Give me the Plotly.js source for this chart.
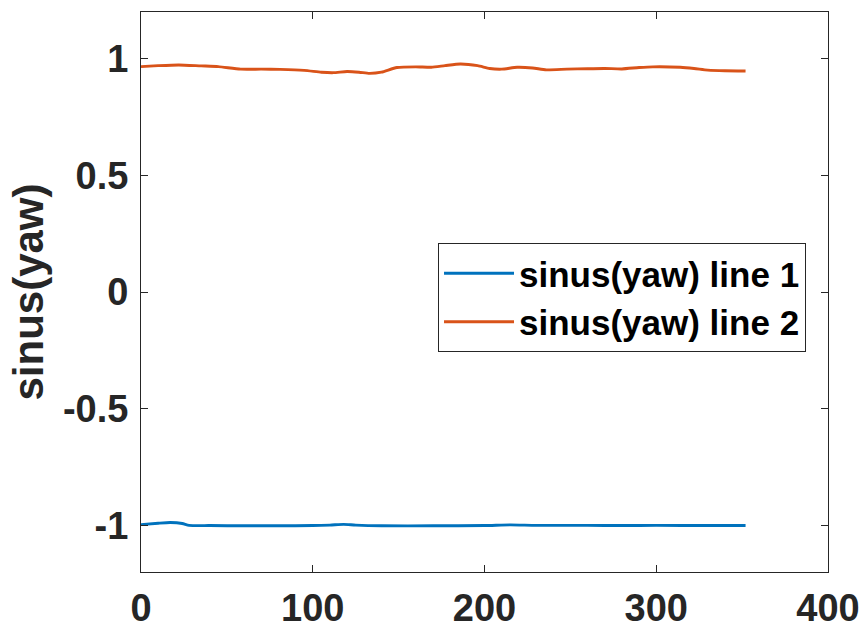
<!DOCTYPE html>
<html>
<head>
<meta charset="utf-8">
<script src="https://cdn.plot.ly/plotly-3.0.1.min.js"></script>
<style>html,body{margin:0;padding:0;background:#fff;}#chart{width:864px;height:632px;}</style>
</head>
<body>
<div id="chart"></div>
<script>
const tOrange = [0,10,22,35,45,58,70,81,95,105,112,120,127,133,140,149,160,169,177,186,196,203,210,219,228,236,248,260,270,280,290,298,314,322,330,340,352];
const vOrange = [0.966,0.970,0.973,0.969,0.966,0.955,0.955,0.954,0.950,0.942,0.940,0.945,0.942,0.937,0.942,0.962,0.965,0.963,0.970,0.977,0.970,0.958,0.955,0.963,0.960,0.952,0.955,0.957,0.958,0.956,0.962,0.965,0.963,0.958,0.951,0.948,0.947];
const tBlue = [0,10,17,24,28,40,60,80,100,110,118,125,140,170,200,215,230,260,280,300,330,352];
const vBlue = [-0.997,-0.991,-0.988,-0.992,-1.000,-1.001,-1.002,-1.002,-1.001,-0.999,-0.996,-0.999,-1.002,-1.002,-1.001,-0.998,-1.000,-1.000,-1.001,-1.000,-1.001,-1.001];
const seriesNames = ["sinus(yaw) line 1","sinus(yaw) line 2"];
const xTicks = [0,100,200,300,400];
const yTicks = [-1,-0.5,0,0.5,1];
const yTickText = ["-1","-0.5","0","0.5","1"];

const font = "Liberation Sans, Arial, sans-serif";
const traces = [
  {x:tBlue, y:vBlue, name:seriesNames[0], mode:"lines", line:{color:"#0072BD", width:2.9, shape:"spline", smoothing:0.6}},
  {x:tOrange, y:vOrange, name:seriesNames[1], mode:"lines", line:{color:"#D95319", width:2.9, shape:"spline", smoothing:0.6}}
];
const axisCommon = {showgrid:false, zeroline:false, showline:true, linecolor:"#262626", linewidth:1, mirror:"allticks", ticks:"inside", ticklen:7, tickcolor:"#262626", tickfont:{family:font, size:38, color:"#262626", weight:"bold"}};
const layout = {
  width:864, height:632,
  margin:{l:141, r:36, t:12, b:60},
  paper_bgcolor:"#fff", plot_bgcolor:"#fff",
  font:{family:font, color:"#262626"},
  xaxis:Object.assign({}, axisCommon, {range:[0,400], tickvals:xTicks, ticktext:xTicks.map(String), ticklabelstandoff:2}),
  yaxis:Object.assign({}, axisCommon, {range:[-1.2,1.2], tickvals:yTicks, ticktext:yTickText, ticklabelstandoff:4,
    title:{text:"sinus(yaw)", font:{family:font, size:42, color:"#262626", weight:"bold"}, standoff:6}}),
  showlegend:true,
  legend:{x:0.968, xanchor:"right", y:0.5875, yanchor:"top", bgcolor:"#fff", bordercolor:"#262626", borderwidth:1,
    font:{family:font, size:35, color:"#000", weight:"bold"}, tracegroupgap:0, itemwidth:70}
};
Plotly.newPlot("chart", traces, layout, {displayModeBar:false, staticPlot:true});
</script>
</body>
</html>
